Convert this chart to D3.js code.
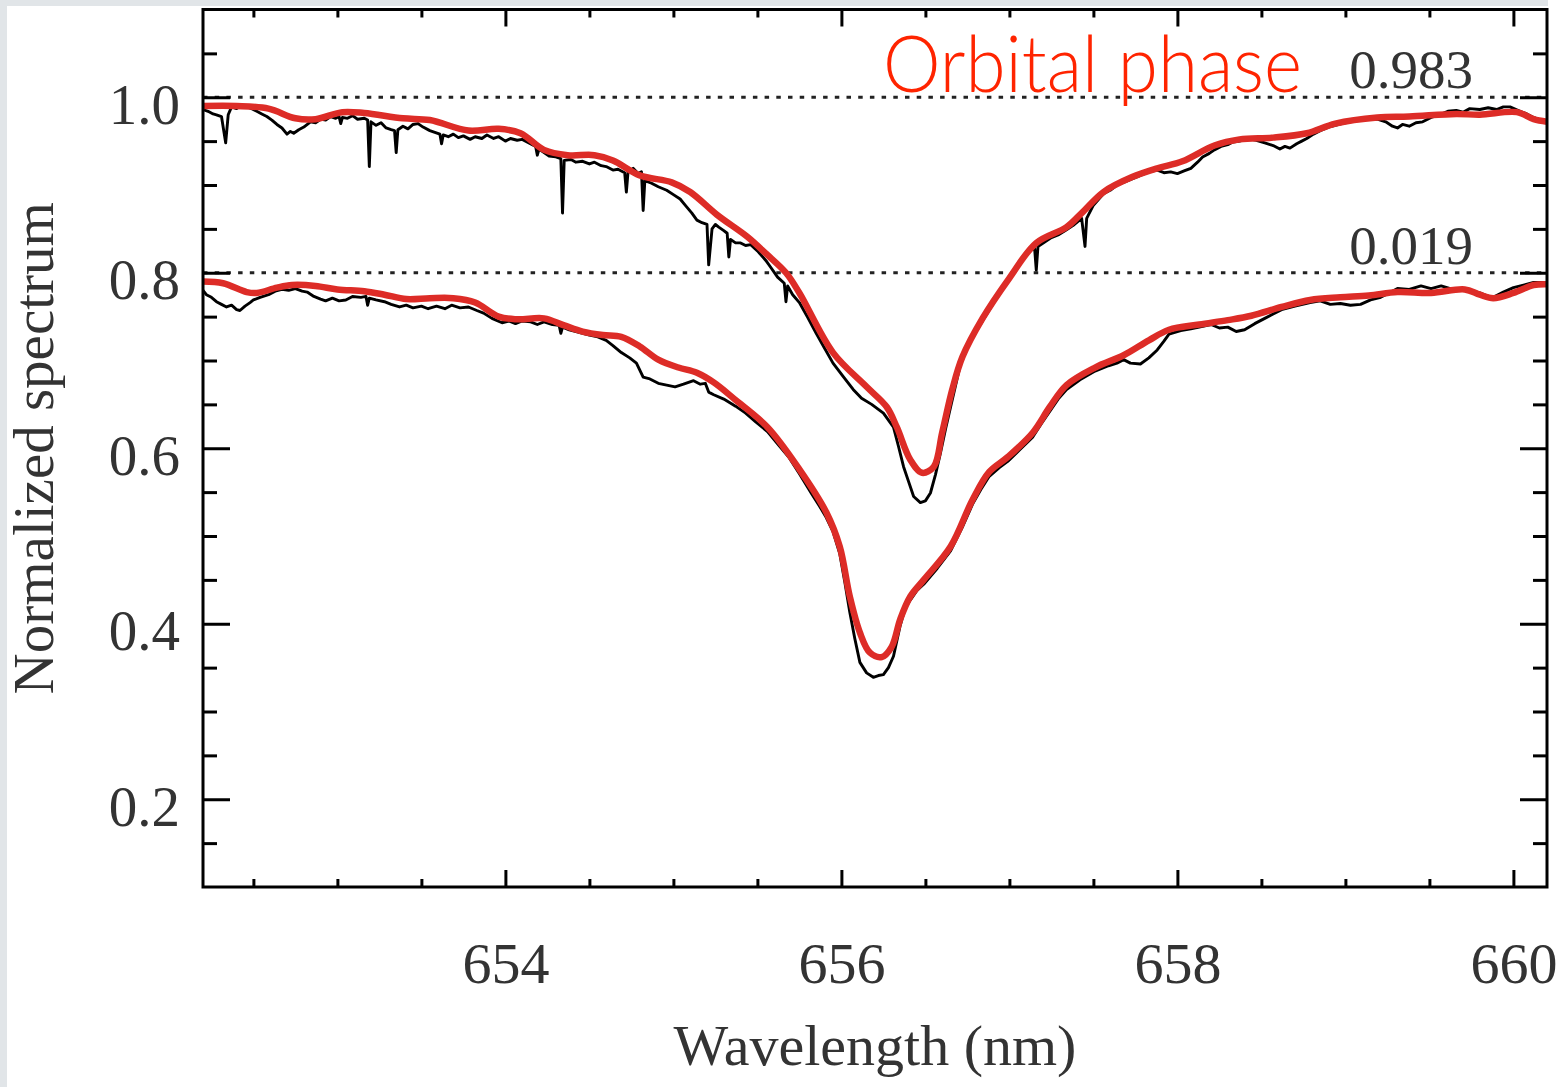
<!DOCTYPE html>
<html>
<head>
<meta charset="utf-8">
<script src="https://cdn.jsdelivr.net/npm/d3@7"></script>
<style>
  html, body { margin: 0; padding: 0; background: #fff; }
  svg { display: block; }
</style>
</head>
<body>
<div id="graph"></div>
<script>
// phase 0.983 (upper spectrum), [wavelength nm, normalized flux]
const observed983 = [
  [652.20, 0.986], [652.23, 0.984], [652.26, 0.981], [652.28, 0.980], [652.31, 0.978],
  [652.335, 0.948], [652.35, 0.980], [652.37, 0.989], [652.40, 0.987], [652.43, 0.991],
  [652.46, 0.989], [652.49, 0.987], [652.52, 0.984], [652.55, 0.981], [652.58, 0.978],
  [652.61, 0.974], [652.64, 0.969], [652.67, 0.965], [652.70, 0.958], [652.72, 0.961],
  [652.74, 0.959], [652.77, 0.963], [652.80, 0.966], [652.84, 0.972], [652.87, 0.971],
  [652.90, 0.975], [652.93, 0.974], [652.96, 0.978], [652.99, 0.976], [653.01, 0.978],
  [653.02, 0.970], [653.03, 0.977], [653.06, 0.976], [653.09, 0.979], [653.12, 0.975],
  [653.16, 0.976], [653.18, 0.974], [653.19, 0.921], [653.20, 0.972], [653.23, 0.968],
  [653.26, 0.971], [653.29, 0.965], [653.32, 0.963], [653.34, 0.962], [653.35, 0.937],
  [653.36, 0.963], [653.39, 0.967], [653.42, 0.964], [653.45, 0.969], [653.48, 0.970],
  [653.51, 0.966], [653.55, 0.962], [653.58, 0.960], [653.61, 0.958], [653.62, 0.947],
  [653.63, 0.957], [653.66, 0.955], [653.69, 0.958], [653.72, 0.954], [653.75, 0.956],
  [653.79, 0.952], [653.82, 0.955], [653.86, 0.953], [653.89, 0.957], [653.93, 0.953],
  [653.96, 0.955], [654.00, 0.950], [654.03, 0.953], [654.07, 0.951], [654.10, 0.952],
  [654.14, 0.948], [654.18, 0.944], [654.19, 0.934], [654.20, 0.941], [654.23, 0.937],
  [654.26, 0.933], [654.30, 0.932], [654.33, 0.930], [654.34, 0.868], [654.35, 0.928],
  [654.39, 0.929], [654.42, 0.926], [654.46, 0.927], [654.50, 0.924], [654.53, 0.926],
  [654.57, 0.922], [654.60, 0.921], [654.64, 0.917], [654.67, 0.918], [654.71, 0.914],
  [654.72, 0.892], [654.73, 0.915], [654.76, 0.919], [654.79, 0.913], [654.81, 0.915],
  [654.82, 0.871], [654.83, 0.905], [654.87, 0.902], [654.91, 0.898], [654.96, 0.894],
  [655.00, 0.889], [655.04, 0.884], [655.07, 0.877], [655.11, 0.868], [655.14, 0.860],
  [655.17, 0.857], [655.20, 0.855], [655.21, 0.809], [655.23, 0.850], [655.25, 0.855],
  [655.27, 0.852], [655.30, 0.848], [655.32, 0.845], [655.33, 0.818], [655.34, 0.838],
  [655.37, 0.834], [655.40, 0.834], [655.43, 0.831], [655.46, 0.832], [655.50, 0.825],
  [655.55, 0.814], [655.58, 0.806], [655.62, 0.795], [655.66, 0.788], [655.67, 0.767],
  [655.68, 0.785], [655.71, 0.775], [655.75, 0.766], [655.80, 0.749], [655.85, 0.731],
  [655.90, 0.714], [655.95, 0.697], [656.01, 0.682], [656.07, 0.667], [656.12, 0.657],
  [656.18, 0.650], [656.25, 0.640], [656.31, 0.624], [656.34, 0.602], [656.37, 0.579],
  [656.40, 0.562], [656.43, 0.545], [656.47, 0.538], [656.50, 0.540], [656.53, 0.549],
  [656.56, 0.570], [656.59, 0.595], [656.62, 0.622], [656.65, 0.647], [656.68, 0.672],
  [656.71, 0.697], [656.77, 0.723], [656.84, 0.745], [656.92, 0.770], [657.00, 0.792],
  [657.04, 0.803], [657.08, 0.815], [657.12, 0.825], [657.15, 0.828], [657.16, 0.803],
  [657.17, 0.830], [657.21, 0.835], [657.25, 0.840], [657.29, 0.843], [657.34, 0.849],
  [657.38, 0.854], [657.43, 0.862], [657.45, 0.830], [657.46, 0.862], [657.50, 0.877],
  [657.56, 0.890], [657.60, 0.894], [657.64, 0.900], [657.68, 0.903], [657.73, 0.907],
  [657.78, 0.911], [657.83, 0.915], [657.88, 0.917], [657.92, 0.914], [657.96, 0.915],
  [658.00, 0.913], [658.04, 0.916], [658.08, 0.919], [658.12, 0.926], [658.15, 0.932],
  [658.19, 0.936], [658.22, 0.940], [658.26, 0.944], [658.30, 0.946], [658.33, 0.949],
  [658.37, 0.950], [658.42, 0.953], [658.47, 0.951], [658.52, 0.948], [658.57, 0.945],
  [658.61, 0.941], [658.64, 0.944], [658.67, 0.942], [658.71, 0.947], [658.74, 0.950],
  [658.77, 0.953], [658.81, 0.958], [658.85, 0.962], [658.90, 0.966], [658.94, 0.968],
  [659.00, 0.971], [659.06, 0.973], [659.12, 0.975], [659.19, 0.975], [659.24, 0.972],
  [659.28, 0.967], [659.31, 0.965], [659.34, 0.969], [659.38, 0.967], [659.42, 0.971],
  [659.46, 0.972], [659.51, 0.977], [659.56, 0.980], [659.61, 0.984], [659.66, 0.985],
  [659.70, 0.983], [659.74, 0.987], [659.80, 0.986], [659.85, 0.988], [659.90, 0.986],
  [659.94, 0.989], [659.98, 0.989], [660.04, 0.984], [660.08, 0.981], [660.12, 0.977],
  [660.16, 0.974], [660.20, 0.972]
];
const model983 = [
  [652.20, 0.990], [652.40, 0.990], [652.59, 0.987], [652.75, 0.976], [652.87, 0.975],
  [653.03, 0.983], [653.16, 0.982], [653.39, 0.976], [653.55, 0.974], [653.78, 0.962],
  [653.96, 0.964], [654.09, 0.959], [654.23, 0.940], [654.37, 0.934], [654.53, 0.934],
  [654.64, 0.928], [654.80, 0.911], [654.99, 0.903], [655.10, 0.892], [655.26, 0.866],
  [655.44, 0.841], [655.55, 0.822], [655.67, 0.800], [655.75, 0.777], [655.95, 0.709],
  [656.15, 0.670], [656.27, 0.647], [656.33, 0.624], [656.41, 0.587], [656.48, 0.572],
  [656.55, 0.579], [656.60, 0.618], [656.66, 0.667], [656.72, 0.704], [656.84, 0.748],
  [657.00, 0.794], [657.16, 0.834], [657.34, 0.852], [657.43, 0.868], [657.56, 0.892],
  [657.73, 0.909], [657.88, 0.919], [658.03, 0.927], [658.22, 0.945], [658.37, 0.952],
  [658.57, 0.954], [658.77, 0.959], [658.94, 0.970], [659.19, 0.977], [659.38, 0.978],
  [659.66, 0.981], [659.80, 0.980], [660.02, 0.983], [660.12, 0.975], [660.20, 0.972]
];

// phase 0.019 (lower spectrum)
const observed019 = [
  [652.20, 0.780], [652.22, 0.775], [652.25, 0.772], [652.28, 0.767], [652.31, 0.764],
  [652.34, 0.761], [652.37, 0.763], [652.40, 0.758], [652.42, 0.757], [652.45, 0.762],
  [652.48, 0.766], [652.50, 0.769], [652.54, 0.772], [652.59, 0.775], [652.63, 0.779],
  [652.67, 0.781], [652.71, 0.780], [652.75, 0.782], [652.79, 0.779], [652.82, 0.778],
  [652.86, 0.773], [652.90, 0.770], [652.93, 0.768], [652.97, 0.771], [653.01, 0.768],
  [653.05, 0.769], [653.09, 0.773], [653.14, 0.772], [653.17, 0.773], [653.18, 0.763],
  [653.19, 0.771], [653.23, 0.769], [653.28, 0.767], [653.32, 0.764], [653.37, 0.761],
  [653.41, 0.763], [653.45, 0.760], [653.50, 0.762], [653.54, 0.759], [653.59, 0.762],
  [653.64, 0.759], [653.68, 0.763], [653.73, 0.760], [653.78, 0.761], [653.83, 0.757],
  [653.87, 0.754], [653.92, 0.748], [653.98, 0.743], [654.02, 0.745], [654.06, 0.742],
  [654.10, 0.745], [654.15, 0.744], [654.19, 0.741], [654.23, 0.744], [654.28, 0.741],
  [654.32, 0.740], [654.33, 0.731], [654.34, 0.738], [654.38, 0.735], [654.42, 0.733],
  [654.46, 0.731], [654.50, 0.729], [654.55, 0.727], [654.60, 0.723], [654.64, 0.717],
  [654.69, 0.709], [654.74, 0.703], [654.78, 0.697], [654.80, 0.689], [654.82, 0.681],
  [654.86, 0.679], [654.91, 0.674], [654.96, 0.672], [655.01, 0.670], [655.06, 0.673],
  [655.09, 0.675], [655.12, 0.677], [655.16, 0.673], [655.19, 0.674], [655.21, 0.664],
  [655.24, 0.661], [655.30, 0.656], [655.37, 0.648], [655.43, 0.640], [655.49, 0.630],
  [655.56, 0.619], [655.62, 0.605], [655.69, 0.589], [655.75, 0.571], [655.82, 0.549],
  [655.87, 0.534], [655.91, 0.521], [655.95, 0.505], [655.99, 0.480], [656.02, 0.448],
  [656.05, 0.413], [656.08, 0.383], [656.11, 0.356], [656.15, 0.344], [656.19, 0.339],
  [656.22, 0.341], [656.25, 0.342], [656.28, 0.350], [656.31, 0.363], [656.35, 0.398],
  [656.38, 0.418], [656.41, 0.427], [656.45, 0.438], [656.49, 0.445], [656.57, 0.463],
  [656.65, 0.483], [656.72, 0.510], [656.78, 0.536], [656.83, 0.553], [656.88, 0.568],
  [656.94, 0.578], [656.99, 0.585], [657.06, 0.598], [657.14, 0.613], [657.19, 0.628],
  [657.24, 0.642], [657.29, 0.656], [657.34, 0.667], [657.42, 0.678], [657.51, 0.688],
  [657.59, 0.694], [657.64, 0.697], [657.68, 0.701], [657.72, 0.697], [657.78, 0.696],
  [657.83, 0.703], [657.88, 0.712], [657.92, 0.722], [657.95, 0.730], [658.02, 0.734],
  [658.08, 0.736], [658.13, 0.738], [658.20, 0.741], [658.25, 0.737], [658.30, 0.738],
  [658.35, 0.733], [658.40, 0.735], [658.46, 0.742], [658.52, 0.748], [658.57, 0.753],
  [658.62, 0.758], [658.70, 0.762], [658.79, 0.766], [658.85, 0.768], [658.91, 0.764],
  [658.97, 0.765], [659.03, 0.763], [659.09, 0.764], [659.15, 0.769], [659.21, 0.772],
  [659.26, 0.777], [659.31, 0.782], [659.38, 0.781], [659.45, 0.785], [659.51, 0.782],
  [659.57, 0.785], [659.64, 0.781], [659.71, 0.782], [659.76, 0.779], [659.80, 0.777],
  [659.84, 0.774], [659.88, 0.772], [659.94, 0.778], [660.00, 0.783], [660.06, 0.786],
  [660.12, 0.789], [660.20, 0.789]
];
const model019 = [
  [652.20, 0.790], [652.32, 0.788], [652.46, 0.778], [652.52, 0.777], [652.64, 0.783],
  [652.73, 0.786], [652.87, 0.785], [653.00, 0.781], [653.16, 0.779], [653.28, 0.775],
  [653.41, 0.770], [653.55, 0.771], [653.69, 0.771], [653.82, 0.766], [653.96, 0.750],
  [654.07, 0.747], [654.23, 0.748], [654.35, 0.740], [654.46, 0.733], [654.58, 0.729],
  [654.69, 0.727], [654.80, 0.716], [654.91, 0.701], [655.03, 0.692], [655.14, 0.686],
  [655.24, 0.675], [655.37, 0.655], [655.56, 0.624], [655.75, 0.576], [655.91, 0.527],
  [655.99, 0.488], [656.05, 0.431], [656.11, 0.390], [656.17, 0.367], [656.24, 0.362],
  [656.30, 0.374], [656.35, 0.405], [656.41, 0.431], [656.49, 0.450], [656.65, 0.488],
  [656.78, 0.541], [656.88, 0.573], [656.99, 0.590], [657.14, 0.618], [657.24, 0.647],
  [657.34, 0.672], [657.51, 0.692], [657.68, 0.706], [657.83, 0.723], [657.95, 0.735],
  [658.13, 0.741], [658.30, 0.746], [658.44, 0.751], [658.62, 0.761], [658.79, 0.769],
  [658.97, 0.772], [659.14, 0.774], [659.31, 0.778], [659.51, 0.777], [659.71, 0.781],
  [659.80, 0.775], [659.88, 0.771], [660.00, 0.777], [660.12, 0.786], [660.20, 0.787]
];

const phaseLabels = ["0.983", "0.019"];
const phaseLevels = [1.0, 0.8];

const xMajor = [654, 656, 658, 660];
const xMinor = [652.5, 653, 653.5, 654.5, 655, 655.5, 656.5, 657, 657.5, 658.5, 659, 659.5];
const yMajor = [0.2, 0.4, 0.6, 0.8, 1.0];
const yMinor = [0.15, 0.25, 0.3, 0.35, 0.45, 0.5, 0.55, 0.65, 0.7, 0.75, 0.85, 0.9, 0.95, 1.05];

const width = 1562;
const height = 1087;
const plotLeft = 203, plotRight = 1547, plotTop = 9.5, plotBottom = 887;

const serif = "'Liberation Serif', 'Times New Roman', serif";
const textColor = "#333";

const x = d3.scaleLinear().domain([652.2, 660.2]).range([plotLeft, plotRight]);
const y = d3.scaleLinear().domain([0.1, 1.1]).range([plotBottom, plotTop]);

const svg = d3.create("svg")
  .attr("width", width)
  .attr("height", height)
  .attr("viewBox", `0 0 ${width} ${height}`);

// slide-like grey edges
svg.append("rect").attr("width", width).attr("height", height).attr("fill", "#fff");
svg.append("rect").attr("x", 0).attr("y", 0).attr("width", 1548).attr("height", 6).attr("fill", "#e1e5e8");
svg.append("rect").attr("x", 0).attr("y", 0).attr("width", 7).attr("height", height).attr("fill", "#e1e5e8");

svg.append("clipPath").attr("id", "plot-clip")
  .append("rect")
  .attr("x", plotLeft).attr("y", plotTop)
  .attr("width", plotRight - plotLeft).attr("height", plotBottom - plotTop);

// dotted reference levels
svg.append("g")
  .selectAll("line")
  .data(phaseLevels)
  .join("line")
  .attr("x1", plotLeft).attr("x2", plotRight)
  .attr("y1", d => y(d)).attr("y2", d => y(d))
  .attr("stroke", "#222")
  .attr("stroke-width", 3)
  .attr("stroke-dasharray", "4.5 7.2");

const lineObs = d3.line().x(d => x(d[0])).y(d => y(d[1]));
const lineModel = d3.line().x(d => x(d[0])).y(d => y(d[1])).curve(d3.curveCatmullRom.alpha(0.5));

const plot = svg.append("g").attr("clip-path", "url(#plot-clip)");

plot.selectAll(".obs")
  .data([observed983, observed019])
  .join("path")
  .attr("class", "obs")
  .attr("d", lineObs)
  .attr("fill", "none")
  .attr("stroke", "#000")
  .attr("stroke-width", 2.9)
  .attr("stroke-linejoin", "round");

plot.selectAll(".model")
  .data([model983, model019])
  .join("path")
  .attr("class", "model")
  .attr("d", lineModel)
  .attr("fill", "none")
  .attr("stroke", "#dd2c27")
  .attr("stroke-width", 6.5)
  .attr("stroke-linecap", "round")
  .attr("stroke-linejoin", "round");

// axes: ticks point inward
const tickStyle = g => {
  g.select(".domain").remove();
  g.selectAll(".tick line").attr("stroke", "#000").attr("stroke-width", 3);
};

svg.append("g")
  .attr("transform", `translate(0,${plotBottom})`)
  .call(d3.axisBottom(x).tickValues(xMinor).tickSize(-8).tickFormat(""))
  .call(tickStyle);

svg.append("g")
  .attr("transform", `translate(0,${plotBottom})`)
  .call(d3.axisBottom(x).tickValues(xMajor).tickSize(-17).tickFormat(d3.format("d")))
  .call(tickStyle)
  .call(g => g.selectAll("text")
    .attr("y", 96).attr("dy", null)
    .attr("fill", textColor)
    .style("font-family", serif)
    .style("font-size", "58px"));

svg.append("g")
  .attr("transform", `translate(0,${plotTop})`)
  .call(d3.axisTop(x).tickValues(xMinor).tickSize(-8).tickFormat(""))
  .call(tickStyle);

svg.append("g")
  .attr("transform", `translate(0,${plotTop})`)
  .call(d3.axisTop(x).tickValues(xMajor).tickSize(-17).tickFormat(""))
  .call(tickStyle);

svg.append("g")
  .attr("transform", `translate(${plotLeft},0)`)
  .call(d3.axisLeft(y).tickValues(yMinor).tickSize(-14).tickFormat(""))
  .call(tickStyle);

svg.append("g")
  .attr("transform", `translate(${plotLeft},0)`)
  .call(d3.axisLeft(y).tickValues(yMajor).tickSize(-27).tickFormat(d3.format(".1f")))
  .call(tickStyle)
  .call(g => g.selectAll("text")
    .attr("x", -23).attr("dy", "0.46em")
    .attr("fill", textColor)
    .style("font-family", serif)
    .style("font-size", "57px"));

svg.append("g")
  .attr("transform", `translate(${plotRight},0)`)
  .call(d3.axisRight(y).tickValues(yMinor).tickSize(-14).tickFormat(""))
  .call(tickStyle);

svg.append("g")
  .attr("transform", `translate(${plotRight},0)`)
  .call(d3.axisRight(y).tickValues(yMajor).tickSize(-27).tickFormat(""))
  .call(tickStyle);

// frame
svg.append("rect")
  .attr("x", plotLeft).attr("y", plotTop)
  .attr("width", plotRight - plotLeft).attr("height", plotBottom - plotTop)
  .attr("fill", "none")
  .attr("stroke", "#000")
  .attr("stroke-width", 3);

// axis titles
svg.append("text")
  .attr("x", (plotLeft + plotRight) / 2)
  .attr("y", 1065)
  .attr("text-anchor", "middle")
  .attr("fill", textColor)
  .style("font-family", serif)
  .style("font-size", "58px")
  .text("Wavelength (nm)");

svg.append("text")
  .attr("transform", `translate(53,${(plotTop + plotBottom) / 2}) rotate(-90)`)
  .attr("text-anchor", "middle")
  .attr("fill", textColor)
  .style("font-family", serif)
  .style("font-size", "57px")
  .text("Normalized spectrum");

// phase labels
svg.append("g")
  .selectAll("text")
  .data(phaseLabels)
  .join("text")
  .attr("x", 1473)
  .attr("y", (d, i) => y(phaseLevels[i]) - 9)
  .attr("text-anchor", "end")
  .attr("fill", textColor)
  .style("font-family", serif)
  .style("font-size", "55px")
  .text(d => d);

svg.append("text")
  .attr("x", 883)
  .attr("y", 92)
  .attr("textLength", 419)
  .attr("lengthAdjust", "spacingAndGlyphs")
  .attr("fill", "#ff2400")
  .style("font-family", "Lato, 'Open Sans', sans-serif")
  .style("font-weight", 300)
  .style("font-size", "79px")
  .text("Orbital phase");

document.getElementById("graph").append(svg.node());
</script>
</body>
</html>
